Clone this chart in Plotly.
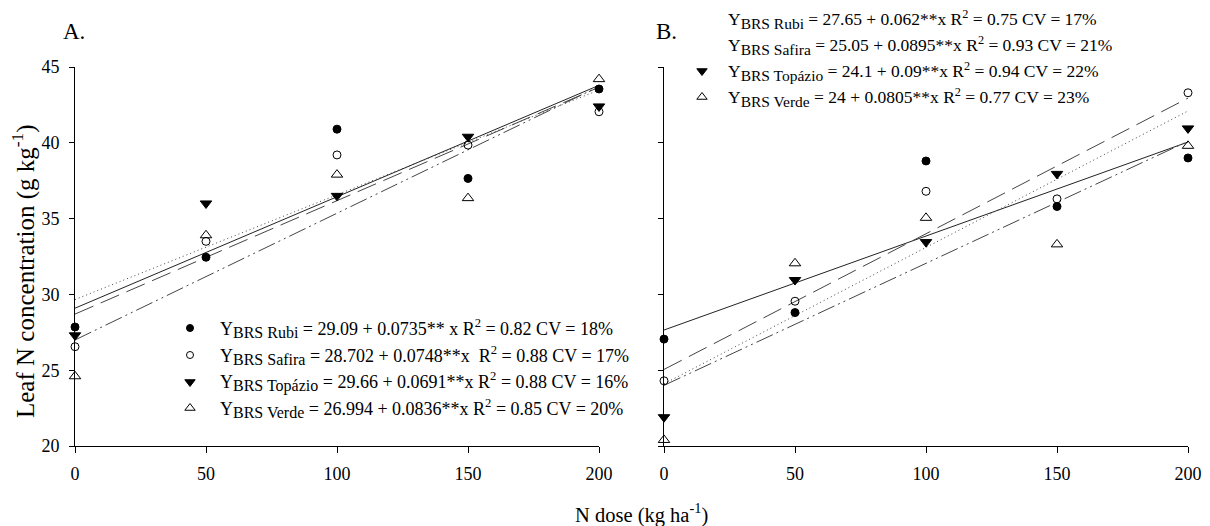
import plotly.graph_objects as go

# ---------------- data ----------------
doses = [0, 50, 100, 150, 200]
cultivars = ["BRS Rubi", "BRS Safira", "BRS Topázio", "BRS Verde"]

# Panel A (observed leaf N, g kg-1)
a_rubi = [27.85, 32.45, 40.9, 37.65, 43.55]
a_safira = [26.55, 33.5, 39.2, 39.85, 42.05]
a_topazio = [27.3, 36.0, 36.5, 40.4, 42.4]
a_verde = [24.6, 33.9, 37.9, 36.35, 44.2]

# Panel B
b_rubi = [27.05, 28.8, 38.8, 35.8, 39.0]
b_safira = [24.3, 29.55, 36.8, 36.3, 43.3]
b_topazio = [21.9, 30.95, 33.45, 37.95, 40.95]
b_verde = [20.4, 32.05, 35.05, 33.3, 39.8]

# Regression coefficients (intercept, slope) from the equations
a_intercepts = [29.09, 28.702, 29.66, 26.994]
a_slopes = [0.0735, 0.0748, 0.0691, 0.0836]
b_intercepts = [27.65, 25.05, 24.1, 24.0]
b_slopes = [0.062, 0.0895, 0.09, 0.0805]

a_eq = [
    "29.09 + 0.0735** x R<sup>2</sup> = 0.82 CV = 18%",
    "28.702 + 0.0748**x&nbsp;&nbsp;R<sup>2</sup> = 0.88 CV = 17%",
    "29.66 + 0.0691**x R<sup>2</sup> = 0.88 CV = 16%",
    "26.994 + 0.0836**x R<sup>2</sup> = 0.85 CV = 20%",
]
b_eq = [
    "27.65 + 0.062**x R<sup>2</sup> = 0.75 CV = 17%",
    "25.05 + 0.0895**x R<sup>2</sup> = 0.93 CV = 21%",
    "24.1 + 0.09**x R<sup>2</sup> = 0.94 CV = 22%",
    "24 + 0.0805**x R<sup>2</sup> = 0.77 CV = 23%",
]

x_ticks = [0, 50, 100, 150, 200]
y_ticks = [20, 25, 30, 35, 40, 45]

# ---------------- styles ----------------
FONT = "Liberation Serif"
symbols = ["circle", "circle-open", "triangle-down", "triangle-up-open"]
msizes = [8, 8, 10, 10]
dashes = ["solid", "20px,8px", "1px,3px", "18px,4px,2px,4px,2px,4px"]
line_colors = ["#222222", "#444444", "#444444", "#444444"]

# page body has an 8px margin: figure is offset by OFF px on screen
OFF = 8
W, H = 1210 - OFF, 526 - OFF
# plot region in screen pixels
SX0, SX1, SY0, SY1 = 75, 1188, 67, 446
L, T = SX0 - OFF, SY0 - OFF
R = W - (SX1 - OFF)
B = H - (SY1 - OFF)
PW = SX1 - SX0
PH = SY1 - SY0


def px(xp):
    return (xp - SX0) / PW


def py(yp):
    return (SY1 - yp) / PH


fig = go.Figure()

panels = [
    ("x", "y", [a_rubi, a_safira, a_topazio, a_verde], a_intercepts, a_slopes),
    ("x2", "y2", [b_rubi, b_safira, b_topazio, b_verde], b_intercepts, b_slopes),
]

for xa, ya, series, ints, slopes in panels:
    for i in range(4):
        xl = [doses[0], doses[-1]]
        yl = [ints[i] + slopes[i] * v for v in xl]
        fig.add_trace(go.Scatter(
            x=xl, y=yl, mode="lines", xaxis=xa, yaxis=ya, showlegend=False,
            line=dict(color=line_colors[i], width=1, dash=dashes[i]),
            hoverinfo="skip"))
    for i in range(4):
        fig.add_trace(go.Scatter(
            x=doses, y=series[i], mode="markers", xaxis=xa, yaxis=ya,
            showlegend=False, cliponaxis=False, name=cultivars[i],
            marker=dict(symbol=symbols[i], size=msizes[i], color="black",
                        line=dict(color="black", width=1))))

# legend keys (independent invisible axis spanning the plot region)
legA_rows = [328, 355, 382, 408]
legB_rows = [19, 45, 71, 97]
legA_x, legA_tx = 190, 218
legB_x, legB_tx = 702, 726

for rows, mx in [(legA_rows, legA_x), (legB_rows, legB_x)]:
    for i in range(4):
        fig.add_trace(go.Scatter(
            x=[px(mx)], y=[py(rows[i])], mode="markers", xaxis="x3", yaxis="y3",
            showlegend=False, cliponaxis=False, hoverinfo="skip",
            marker=dict(symbol=symbols[i], size=msizes[i] - 1, color="black",
                        line=dict(color="black", width=1))))

annotations = []
for rows, tx, eqs, fs, ss in [(legA_rows, legA_tx, a_eq, 18, 16),
                              (legB_rows, legB_tx, b_eq, 17.5, 15.5)]:
    for i in range(4):
        txt = ("Y<sub><span style='font-size:%spx'>%s</span></sub> = %s"
               % (ss, cultivars[i], eqs[i]))
        annotations.append(dict(
            x=px(tx), y=py(rows[i]), xref="paper", yref="paper",
            text=txt, showarrow=False, xanchor="left", yanchor="middle",
            font=dict(family=FONT, size=fs, color="black")))

annotations += [
    dict(x=px(74), y=py(31), xref="paper", yref="paper", text="A.",
         xanchor="center", yanchor="middle",
         showarrow=False, font=dict(family=FONT, size=23, color="black")),
    dict(x=px(666), y=py(31), xref="paper", yref="paper", text="B.",
         xanchor="center", yanchor="middle",
         showarrow=False, font=dict(family=FONT, size=23, color="black")),
    dict(x=px(641), y=py(513), xref="paper", yref="paper",
         xanchor="center", yanchor="middle",
         text="N dose (kg ha<sup>-1</sup>)", showarrow=False,
         font=dict(family=FONT, size=20.5, color="black")),
    dict(x=px(23), y=py(271), xref="paper", yref="paper", textangle=-90,
         xanchor="center", yanchor="middle",
         text="Leaf N concentration (g kg<sup>-1</sup>)", showarrow=False,
         font=dict(family=FONT, size=25, color="black")),
]

axis_common = dict(showline=True, linecolor="black", linewidth=1, ticks="outside",
                   tickcolor="black", tickwidth=1, showgrid=False,
                   zeroline=False, mirror=False, automargin=False,
                   tickfont=dict(family=FONT, size=18, color="black"))

split_a = px(599)
split_b = px(664)

fig.update_layout(
    width=W, height=H,
    margin=dict(l=L, r=R, t=T, b=B, autoexpand=False),
    paper_bgcolor="white", plot_bgcolor="rgba(0,0,0,0)",
    showlegend=False,
    xaxis=dict(domain=[0, split_a], range=[0, 200], tickvals=x_ticks,
               anchor="y", ticklen=6, ticklabelstandoff=5, **axis_common),
    yaxis=dict(domain=[0, 1], range=[20, 45], tickvals=y_ticks, anchor="x",
               ticklen=5, ticklabelstandoff=6, **axis_common),
    xaxis2=dict(domain=[split_b, 1], range=[0, 200], tickvals=x_ticks,
                anchor="y2", ticklen=6, ticklabelstandoff=5, **axis_common),
    yaxis2=dict(domain=[0, 1], range=[20, 45], tickvals=y_ticks, anchor="x2",
                showticklabels=False, ticklen=5, **axis_common),
    xaxis3=dict(domain=[0, 1], range=[0, 1], anchor="y3", visible=False,
                automargin=False),
    yaxis3=dict(domain=[0, 1], range=[0, 1], anchor="x3", visible=False,
                automargin=False),
    annotations=annotations,
)

fig.write_html("out.html")
